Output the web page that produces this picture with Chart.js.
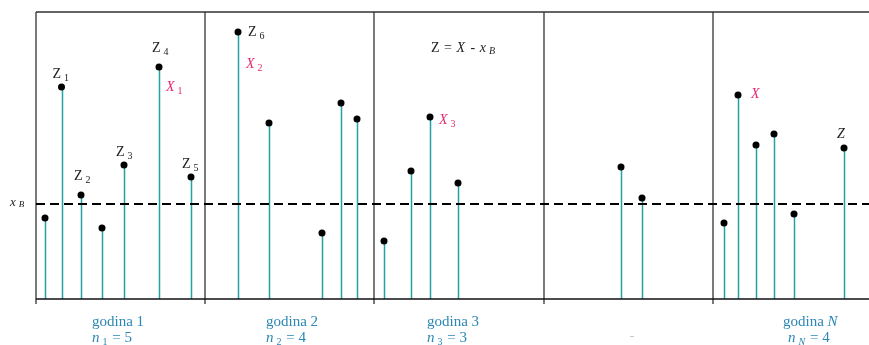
<!DOCTYPE html>
<html>
<head>
<meta charset="utf-8">
<script src="https://cdn.jsdelivr.net/npm/chart.js@4.4.0/dist/chart.umd.min.js"></script>
<style>
html, body { margin: 0; padding: 0; background: #fff; }
#c { display: block; }
</style>
</head>
<body>
<canvas id="c" width="869" height="345"></canvas>
<script>
// positions of the observations along the time axis and their values
var xPos = [9, 25.5, 45, 66, 88, 123, 155,
            202, 233, 286, 305, 321,
            348, 375, 394, 422,
            585, 606,
            688, 702, 720, 738, 758, 808];
var yVal = [81, 212, 104, 71, 134, 232, 122,
            267, 176, 66, 196, 180,
            58, 128, 182, 116,
            132, 101,
            76, 204, 154, 165, 85, 151];

var xB = 95;                          // reference level x_B
var groupEdges = [169, 338, 508, 677]; // year separators
var groupStart = [56, 230, 391, 594, 747];
var groupNames = ['godina 1', 'godina 2', 'godina 3', '', 'godina'];
var groupNameIt = ['', '', '', '', 'N'];
var groupSub = ['1', '2', '3', '', 'N'];
var groupN = ['5', '4', '3', '', '4'];

// point labels: index of point, text, subscript
var zLabels = [[1, 'Z', '1'], [2, 'Z', '2'], [4, 'Z', '3'], [5, 'Z', '4'], [6, 'Z', '5'], [7, 'Z', '6'], [23, 'Z', '']];
var xLabels = [[5, 'X', '1'], [7, 'X', '2'], [14, 'X', '3'], [19, 'X', '']];

var pts = xPos.map(function (x, i) { return { x: x, y: yVal[i] }; });

var serif = '"Liberation Serif", "DejaVu Serif", serif';
var teal = '#22a3a3';
var pink = '#e8256f';
var blue = '#2a86b4';

function txt(ctx, s, x, y, font, color) {
    ctx.font = font;
    ctx.fillStyle = color;
    ctx.fillText(s, x, y);
    return x + ctx.measureText(s).width;
}

// offsets of labels relative to their point (pixels)
var zOff = { 1: [-9, -9], 2: [-7, -15], 4: [-8, -9], 5: [-7, -15], 6: [-9, -9], 7: [10, 4], 23: [-7, -10] };
var xOff = { 5: [7, 24], 7: [8, 36], 14: [9, 7], 19: [13, 3] };

var diagram = {
    id: 'diagram',
    beforeDatasetsDraw: function (chart) {
        var ctx = chart.ctx, a = chart.chartArea;
        var sx = chart.scales.x, sy = chart.scales.y;
        ctx.save();
        // stems
        ctx.strokeStyle = teal;
        ctx.lineWidth = 1.5;
        pts.forEach(function (p) {
            var px = Math.round(sx.getPixelForValue(p.x)) + 0.5;
            ctx.beginPath();
            ctx.moveTo(px, sy.getPixelForValue(0));
            ctx.lineTo(px, sy.getPixelForValue(p.y));
            ctx.stroke();
        });
        // frame
        ctx.strokeStyle = '#333';
        ctx.lineWidth = 1.3;
        ctx.beginPath();
        ctx.moveTo(a.left, a.top);
        ctx.lineTo(a.right, a.top);
        ctx.moveTo(a.left, a.top);
        ctx.lineTo(a.left, a.bottom + 5);
        groupEdges.forEach(function (g) {
            var px = sx.getPixelForValue(g);
            ctx.moveTo(px, a.top);
            ctx.lineTo(px, a.bottom + 5);
        });
        ctx.stroke();
        ctx.strokeStyle = '#111';
        ctx.lineWidth = 1.6;
        ctx.beginPath();
        ctx.moveTo(a.left, a.bottom);
        ctx.lineTo(a.right, a.bottom);
        ctx.stroke();
        // x_B dashed line
        var yb = sy.getPixelForValue(xB);
        ctx.strokeStyle = '#000';
        ctx.lineWidth = 2;
        ctx.setLineDash([9, 5]);
        ctx.beginPath();
        ctx.moveTo(a.left, yb);
        ctx.lineTo(a.right, yb);
        ctx.stroke();
        ctx.setLineDash([]);
        ctx.restore();
    },
    afterDatasetsDraw: function (chart) {
        var ctx = chart.ctx, a = chart.chartArea;
        var sx = chart.scales.x, sy = chart.scales.y;
        ctx.save();
        ctx.textBaseline = 'alphabetic';
        var big = '14px ' + serif, bigIt = 'italic 14px ' + serif;
        var sub = '10px ' + serif, subIt = 'italic 10px ' + serif;

        zLabels.forEach(function (l) {
            var p = pts[l[0]], o = zOff[l[0]];
            var x = sx.getPixelForValue(p.x) + o[0], y = sy.getPixelForValue(p.y) + o[1];
            var e = txt(ctx, l[1], x, y, l[2] ? big : bigIt, '#222');
            if (l[2]) txt(ctx, l[2], e + 3, y + 3, sub, '#222');
        });
        xLabels.forEach(function (l) {
            var p = pts[l[0]], o = xOff[l[0]];
            var x = sx.getPixelForValue(p.x) + o[0], y = sy.getPixelForValue(p.y) + o[1];
            var e = txt(ctx, l[1], x, y, bigIt, pink);
            if (l[2]) txt(ctx, l[2], e + 3, y + 3, sub, pink);
        });

        // formula
        var fx = sx.getPixelForValue(395), fy = a.top + 40;
        var e = txt(ctx, 'Z', fx, fy, big, '#222');
        e = txt(ctx, ' = ', e + 1, fy, big, '#222');
        e = txt(ctx, 'X', e + 1, fy, bigIt, '#222');
        e = txt(ctx, ' - ', e + 2, fy, big, '#222');
        e = txt(ctx, 'x', e + 1, fy, bigIt, '#222');
        txt(ctx, 'B', e + 3, fy + 2, subIt, '#222');

        // x_B label on the left
        var yb = sy.getPixelForValue(xB);
        e = txt(ctx, 'x', 10, yb + 2, 'italic 13px ' + serif, '#222');
        txt(ctx, 'B', e + 3, yb + 3, 'italic 9px ' + serif, '#222');

        // year labels
        var gf = '15px ' + serif, gfIt = 'italic 15px ' + serif;
        groupNames.forEach(function (g, i) {
            var x = sx.getPixelForValue(groupStart[i]);
            if (!g) {
                txt(ctx, '..', x, a.bottom + 38, '8px ' + serif, '#555');
                return;
            }
            var e1 = txt(ctx, g, x, a.bottom + 27, gf, blue);
            if (groupNameIt[i]) txt(ctx, ' ' + groupNameIt[i], e1, a.bottom + 27, gfIt, blue);
            var nx = i === 4 ? x + 5 : x;
            var e2 = txt(ctx, 'n', nx, a.bottom + 43, gfIt, blue);
            var e3 = txt(ctx, groupSub[i], e2 + 3, a.bottom + 46, i === 4 ? subIt : sub, blue);
            txt(ctx, ' = ' + groupN[i], e3 + 1, a.bottom + 43, gf, blue);
        });
        ctx.restore();
    }
};

new Chart(document.getElementById('c'), {
    type: 'scatter',
    data: {
        datasets: [{
            data: pts,
            pointRadius: 3.5,
            pointBackgroundColor: '#000',
            pointBorderWidth: 0
        }]
    },
    options: {
        responsive: false,
        animation: false,
        devicePixelRatio: 1,
        layout: { autoPadding: false, padding: { left: 36, top: 12, right: 0, bottom: 46 } },
        plugins: { legend: { display: false }, tooltip: { enabled: false } },
        scales: {
            x: { type: 'linear', min: 0, max: 833, display: false },
            y: { type: 'linear', min: 0, max: 287, display: false }
        }
    },
    plugins: [diagram]
});
</script>
</body>
</html>
